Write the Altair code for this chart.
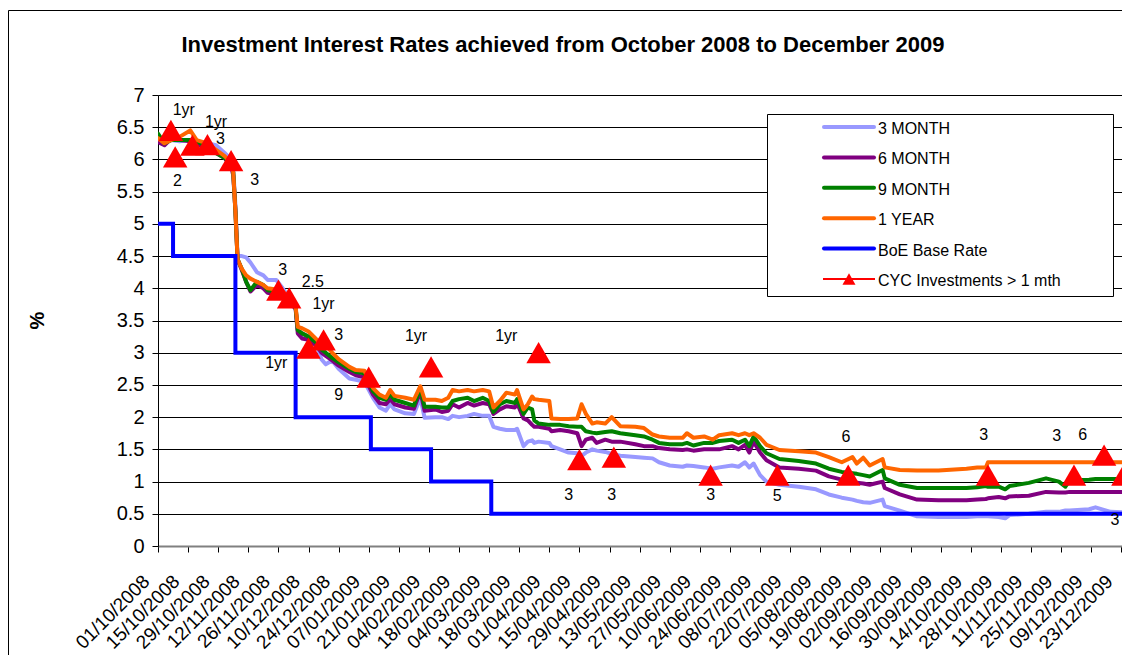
import altair as alt
import pandas as pd

# ---------------- data ----------------
dates = [
    "2008-10-01", "2008-10-04", "2008-10-07", "2008-10-11", "2008-10-16", "2008-10-19",
    "2008-10-24", "2008-10-28", "2008-11-01", "2008-11-04", "2008-11-05", "2008-11-06",
    "2008-11-07", "2008-11-09", "2008-11-11", "2008-11-13", "2008-11-16", "2008-11-19",
    "2008-11-21", "2008-11-25", "2008-11-28", "2008-12-01", "2008-12-04", "2008-12-05",
    "2008-12-07", "2008-12-10", "2008-12-14", "2008-12-16", "2008-12-18", "2008-12-21",
    "2008-12-24", "2008-12-29", "2009-01-01", "2009-01-05", "2009-01-09", "2009-01-12",
    "2009-01-15", "2009-01-17", "2009-01-19", "2009-01-24", "2009-01-28", "2009-01-31",
    "2009-02-02", "2009-02-07", "2009-02-10", "2009-02-13", "2009-02-15", "2009-02-18",
    "2009-02-22", "2009-02-25", "2009-03-01", "2009-03-04", "2009-03-06", "2009-03-09",
    "2009-03-12", "2009-03-16", "2009-03-17", "2009-03-20", "2009-03-22", "2009-03-24",
    "2009-03-25", "2009-03-27", "2009-04-01", "2009-04-02", "2009-04-06", "2009-04-10",
    "2009-04-14", "2009-04-16", "2009-04-18", "2009-04-21", "2009-04-23", "2009-04-27",
    "2009-04-30", "2009-05-04", "2009-05-11", "2009-05-15", "2009-05-19", "2009-05-22",
    "2009-05-27", "2009-06-02", "2009-06-04", "2009-06-07", "2009-06-12", "2009-06-16",
    "2009-06-19", "2009-06-25", "2009-06-28", "2009-07-01", "2009-07-03", "2009-07-05",
    "2009-07-08", "2009-07-11", "2009-07-17", "2009-07-26", "2009-08-03", "2009-08-09",
    "2009-08-15", "2009-08-20", "2009-08-22", "2009-08-25", "2009-08-28", "2009-09-03",
    "2009-09-04", "2009-09-11", "2009-09-19", "2009-09-29", "2009-10-12", "2009-10-17",
    "2009-10-21", "2009-10-22", "2009-10-27", "2009-10-30", "2009-11-01", "2009-11-10",
    "2009-11-18", "2009-11-24", "2009-11-27", "2009-11-29", "2009-12-08", "2009-12-11",
    "2009-12-18", "2009-12-27",
]

one_year = [
    6.33, 6.25, 6.30, 6.35, 6.45, 6.30, 6.25, 6.15, 6.05, 5.95, 5.80, 5.20,
    4.45, 4.30, 4.20, 4.15, 4.10, 4.05, 4.00, 3.98, 3.95, 3.85, 3.72, 3.40,
    3.38, 3.33, 3.20, 3.10, 3.12, 3.00, 2.90, 2.78, 2.73, 2.72, 2.45, 2.35,
    2.30, 2.42, 2.33, 2.30, 2.27, 2.48, 2.27, 2.27, 2.25, 2.30, 2.42, 2.40,
    2.42, 2.40, 2.42, 2.40, 2.15, 2.25, 2.38, 2.35, 2.42, 2.12, 2.20, 2.32,
    2.28, 2.27, 2.25, 1.98, 1.97, 1.97, 1.98, 2.20, 2.05, 1.90, 1.92, 1.90,
    2.00, 1.86, 1.85, 1.83, 1.73, 1.70, 1.68, 1.68, 1.75, 1.68, 1.70, 1.65,
    1.72, 1.75, 1.72, 1.75, 1.72, 1.75, 1.68, 1.57, 1.49, 1.47, 1.45, 1.38,
    1.30, 1.38, 1.28, 1.37, 1.25, 1.35, 1.22, 1.18, 1.17, 1.17, 1.20, 1.22,
    1.22, 1.30, 1.30, 1.30, 1.30, 1.30, 1.30, 1.30, 1.30, 1.30, 1.30, 1.30,
    1.30, 1.30,
]

nine_month = [
    6.40, 6.25, 6.30, 6.30, 6.30, 6.28, 6.20, 6.10, 6.02, 5.95, 5.80, 5.20,
    4.45, 4.30, 4.10, 3.97, 4.10, 4.05, 3.97, 3.95, 3.92, 3.82, 3.70, 3.35,
    3.30, 3.25, 3.15, 3.05, 3.00, 2.92, 2.85, 2.75, 2.70, 2.68, 2.40, 2.30,
    2.27, 2.35, 2.27, 2.22, 2.18, 2.45, 2.16, 2.16, 2.15, 2.15, 2.25, 2.28,
    2.30, 2.25, 2.30, 2.25, 2.08, 2.20, 2.25, 2.22, 2.28, 2.05, 2.15, 2.12,
    1.95, 1.90, 1.88, 1.88, 1.88, 1.86, 1.85, 1.85, 1.78, 1.76, 1.75, 1.77,
    1.78, 1.75, 1.72, 1.70, 1.65, 1.60, 1.58, 1.58, 1.60, 1.56, 1.60, 1.60,
    1.63, 1.65, 1.60, 1.65, 1.55, 1.70, 1.55, 1.44, 1.35, 1.32, 1.28, 1.20,
    1.15, 1.13, 1.12, 1.10, 1.08, 1.18, 1.05, 0.95, 0.90, 0.90, 0.90, 0.91,
    0.93, 0.92, 0.92, 0.88, 0.93, 0.98, 1.05, 1.00, 0.92, 1.02, 1.03, 1.04,
    1.04, 1.04,
]

six_month = [
    6.27, 6.22, 6.32, 6.30, 6.28, 6.25, 6.15, 6.10, 6.02, 5.90, 5.75, 5.20,
    4.45, 4.28, 4.10, 3.95, 4.05, 4.00, 3.93, 3.90, 3.88, 3.80, 3.68, 3.30,
    3.22, 3.20, 3.10, 3.00, 2.95, 2.88, 2.80, 2.70, 2.65, 2.62, 2.35, 2.22,
    2.20, 2.28, 2.20, 2.15, 2.13, 2.40, 2.10, 2.12, 2.08, 2.10, 2.20, 2.15,
    2.22, 2.18, 2.22, 2.20, 2.05, 2.12, 2.17, 2.15, 2.22, 1.98, 1.95, 1.88,
    1.85, 1.85, 1.82, 1.78, 1.80, 1.78, 1.75, 1.55, 1.65, 1.68, 1.60, 1.65,
    1.62, 1.62, 1.58, 1.55, 1.55, 1.52, 1.50, 1.49, 1.50, 1.48, 1.50, 1.50,
    1.50, 1.55, 1.50, 1.57, 1.45, 1.62, 1.45, 1.33, 1.22, 1.20, 1.17, 1.08,
    1.03, 1.00, 0.98, 0.97, 0.95, 1.00, 0.90, 0.80, 0.72, 0.71, 0.71, 0.72,
    0.73, 0.74, 0.76, 0.74, 0.77, 0.78, 0.84, 0.83, 0.83, 0.84, 0.84, 0.84,
    0.84, 0.84,
]

three_month = [
    6.30, 6.28, 6.30, 6.28, 6.30, 6.25, 6.25, 6.22, 6.10, 6.00, 5.85, 5.30,
    4.50, 4.50, 4.48, 4.40, 4.25, 4.20, 4.13, 4.13, 4.00, 3.85, 3.70, 3.35,
    3.30, 3.25, 3.10, 2.90, 2.82, 2.88, 2.75, 2.60, 2.58, 2.55, 2.30, 2.15,
    2.10, 2.20, 2.12, 2.06, 2.05, 2.30, 1.99, 2.00, 2.00, 1.97, 2.02, 2.00,
    2.02, 2.05, 2.02, 2.02, 1.85, 1.82, 1.80, 1.80, 1.82, 1.55, 1.62, 1.64,
    1.60, 1.62, 1.60, 1.55, 1.50, 1.45, 1.44, 1.40, 1.45, 1.50, 1.48, 1.46,
    1.43, 1.40, 1.38, 1.37, 1.36, 1.30, 1.25, 1.23, 1.25, 1.24, 1.22, 1.20,
    1.22, 1.25, 1.23, 1.30, 1.22, 1.28, 1.10, 1.00, 0.95, 0.92, 0.88, 0.80,
    0.75, 0.72, 0.70, 0.68, 0.67, 0.72, 0.62, 0.55, 0.46, 0.45, 0.45, 0.46,
    0.46, 0.46, 0.45, 0.43, 0.48, 0.50, 0.53, 0.53, 0.55, 0.55, 0.57, 0.60,
    0.53, 0.52,
]

boe_dates = ["2008-10-01", "2008-10-08", "2008-11-06", "2008-12-04",
             "2009-01-08", "2009-02-05", "2009-03-05", "2009-12-31"]
boe_rate = [5.0, 4.5, 3.0, 2.0, 1.5, 1.0, 0.5, 0.5]

cyc_dates = ["2008-10-07", "2008-10-09", "2008-10-17", "2008-10-24", "2008-11-04",
             "2008-11-26", "2008-12-01", "2008-12-10", "2008-12-17", "2009-01-07",
             "2009-02-05", "2009-03-27", "2009-04-15", "2009-05-01", "2009-06-15",
             "2009-07-16", "2009-08-18", "2009-10-22", "2009-12-01", "2009-12-15",
             "2009-12-24"]
cyc_rate = [6.45, 6.04, 6.22, 6.23, 5.98, 3.97, 3.85, 3.07, 3.20, 2.62,
            2.78, 3.00, 1.34, 1.38, 1.10, 1.10, 1.10, 1.10, 1.10, 1.41, 1.10]

note_dates = ["2008-10-13", "2008-10-10", "2008-10-28", "2008-10-30", "2008-11-15",
              "2008-11-28", "2008-12-12", "2008-12-17", "2008-11-25", "2008-12-24",
              "2008-12-24", "2009-01-29", "2009-03-12", "2009-04-10", "2009-04-30",
              "2009-06-15", "2009-07-16", "2009-08-17", "2009-10-20", "2009-11-23",
              "2009-12-05", "2009-12-20"]
note_rate = [6.77, 5.67, 6.58, 6.32, 5.68, 4.29, 4.10, 3.76, 2.84, 3.28,
             2.34, 3.26, 3.26, 0.79, 0.79, 0.79, 0.78, 1.69, 1.72, 1.71,
             1.72, 0.40]
note_text = ["1yr", "2", "1yr", "3", "3", "3", "2.5", "1yr", "1yr", "3",
             "9", "1yr", "1yr", "3", "3", "3", "5", "6", "3", "3",
             "6", "3"]

tick_labels = [
    "01/10/2008", "15/10/2008", "29/10/2008", "12/11/2008", "26/11/2008", "10/12/2008",
    "24/12/2008", "07/01/2009", "21/01/2009", "04/02/2009", "18/02/2009", "04/03/2009",
    "18/03/2009", "01/04/2009", "15/04/2009", "29/04/2009", "13/05/2009", "27/05/2009",
    "10/06/2009", "24/06/2009", "08/07/2009", "22/07/2009", "05/08/2009", "19/08/2009",
    "02/09/2009", "16/09/2009", "30/09/2009", "14/10/2009", "28/10/2009", "11/11/2009",
    "25/11/2009", "09/12/2009", "23/12/2009",
]
y_ticks = [0, 0.5, 1, 1.5, 2, 2.5, 3, 3.5, 4, 4.5, 5, 5.5, 6, 6.5, 7]

series_names = ["3 MONTH", "6 MONTH", "9 MONTH", "1 YEAR", "BoE Base Rate"]
series_colors = ["#9999FF", "#800080", "#008000", "#FF6600", "#0000FF"]
cyc_name = "CYC Investments > 1 mth"
title_text = "Investment Interest Rates achieved from October 2008 to December 2009"

FONT = "Liberation Sans"

# ---------------- tables ----------------
rates = pd.DataFrame({
    "date": pd.to_datetime(dates),
    "3 MONTH": three_month,
    "6 MONTH": six_month,
    "9 MONTH": nine_month,
    "1 YEAR": one_year,
})
long = rates.melt("date", var_name="series", value_name="rate")
boe = pd.DataFrame({"date": pd.to_datetime(boe_dates), "rate": boe_rate,
                    "series": "BoE Base Rate"})
cyc = pd.DataFrame({"date": pd.to_datetime(cyc_dates), "rate": cyc_rate})
notes = pd.DataFrame({"date": pd.to_datetime(note_dates), "rate": note_rate,
                      "label": note_text})


def to_dt(s):
    d, m, y = s.split("/")
    return alt.DateTime(year=int(y), month=int(m), date=int(d))


tick_values = [to_dt(s) for s in tick_labels]

x_enc = alt.X(
    "date:T",
    scale=alt.Scale(domain=[alt.DateTime(year=2008, month=10, date=1),
                            alt.DateTime(year=2009, month=12, date=23, hours=8)]),
    axis=alt.Axis(values=tick_values, format="%d/%m/%Y", labelAngle=315,
                  labelAlign="right", labelBaseline="middle", labelFontSize=19,
                  labelFont=FONT, labelColor="black", labelPadding=26,
                  labelOffset=-12, labelOverlap=False, labelFlush=False,
                  labelBound=False, tickSize=6, tickColor="black",
                  domainColor="#808080", domainWidth=2, grid=False, title=None),
)
y_enc = alt.Y(
    "rate:Q",
    scale=alt.Scale(domain=[0, 7], nice=False, zero=True),
    axis=alt.Axis(values=y_ticks, format="~g", labelFontSize=20, labelFont=FONT,
                  labelColor="black", labelPadding=8, tickSize=6, tickColor="black",
                  domainColor="black", domainWidth=1, grid=True, gridColor="black",
                  gridWidth=1, title="%", titleFont=FONT, titleFontSize=20,
                  titleFontWeight="bold", titleColor="black", titleAngle=270,
                  titleX=-121, titleY=225, titleAlign="center",
                  titleBaseline="middle"),
)
color_scale = alt.Scale(domain=series_names, range=series_colors)

layers = []
for name in series_names[:4]:
    layers.append(
        alt.Chart(long).transform_filter(alt.datum.series == name)
        .mark_line(strokeWidth=4, clip=True, strokeJoin="round", strokeCap="round")
        .encode(x=x_enc, y=y_enc,
                color=alt.Color("series:N", scale=color_scale, legend=None))
    )
layers.append(
    alt.Chart(boe).mark_line(strokeWidth=4, clip=True, interpolate="step-after")
    .encode(x=x_enc, y=y_enc,
            color=alt.Color("series:N", scale=color_scale, legend=None))
)
layers.append(
    alt.Chart(cyc).mark_point(shape="triangle-up", filled=True, size=600,
                              color="#FF0000", opacity=1)
    .encode(x=x_enc, y=y_enc)
)
layers.append(
    alt.Chart(notes).mark_text(fontSize=16, font=FONT, color="black",
                               align="center", baseline="middle")
    .encode(x=x_enc, y=y_enc, text="label:N")
)
main = alt.layer(*layers)

# ---------------- overlay: title, frame, legend ----------------
one = pd.DataFrame({"k": [0]})
leg = pd.DataFrame({"name": series_names + [cyc_name],
                    "idx": list(range(len(series_names) + 1))})
leg_base = alt.Chart(leg).transform_calculate(py="32 + datum.idx * 30.4")
py = alt.Y("py:Q", scale=None, axis=None)

title = alt.Chart(one).mark_text(
    text=title_text, font=FONT, fontSize=22, fontWeight="bold", color="black",
    align="center", baseline="alphabetic",
).encode(x=alt.value(405), y=alt.value(-43))

frame_top = alt.Chart(one).mark_rule(color="black", strokeWidth=1).encode(
    x=alt.value(-149.5), x2=alt.value(970), y=alt.value(-84.5))
frame_left = alt.Chart(one).mark_rule(color="black", strokeWidth=1).encode(
    x=alt.value(-149.5), y=alt.value(-84.5), y2=alt.value(570))

box = alt.Chart(one).mark_rect(fill="white", stroke="black", strokeWidth=1).encode(
    x=alt.value(609.5), x2=alt.value(955.5), y=alt.value(19.5), y2=alt.value(201.5))

leg_lines = leg_base.transform_filter("datum.idx < 5").mark_rule(
    strokeWidth=4, strokeCap="round").encode(
    x=alt.value(666), x2=alt.value(716), y=py,
    color=alt.Color("name:N", scale=color_scale, legend=None))
leg_red = leg_base.transform_filter("datum.idx == 5").mark_rule(
    strokeWidth=2, color="#FF0000").encode(x=alt.value(665), x2=alt.value(717), y=py)
leg_tri = leg_base.transform_filter("datum.idx == 5").mark_point(
    shape="triangle-up", filled=True, size=170, color="#FF0000", opacity=1).encode(
    x=alt.value(691), y=py)
leg_text = leg_base.mark_text(align="left", baseline="middle", font=FONT,
                              fontSize=16, color="black", dy=2).encode(
    x=alt.value(720), y=py, text="name:N")

overlay = alt.layer(title, frame_top, frame_left, box, leg_lines, leg_red,
                    leg_tri, leg_text)

chart = alt.layer(main, overlay).resolve_scale(
    x="independent", y="independent"
).properties(
    width=964, height=451,
    autosize=alt.AutoSizeParams(type="none"),
    padding={"left": 150, "top": 87, "right": 0, "bottom": 109},
).configure_view(stroke=None).configure(background="white")

chart.save("out.html", embed_options={"renderer": "svg", "actions": False})
